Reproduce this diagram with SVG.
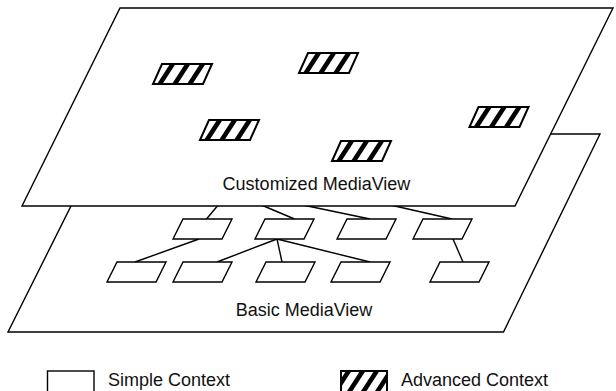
<svg xmlns="http://www.w3.org/2000/svg" width="616" height="391" viewBox="0 0 616 391">
  <style>
    .plane { fill: #fff; stroke: #000; stroke-width: 1.4; stroke-linejoin: miter; }
    .ctx { fill: #fff; stroke: #000; stroke-width: 1.4; }
    .adv { fill: none; stroke: #000; stroke-width: 2; }
    .link { stroke: #000; stroke-width: 1.4; fill: none; }
    .label { font-family: "Liberation Sans", Arial, sans-serif; font-size: 18px; fill: #111; }
  </style>
  <defs>
    <!-- simple context: plain slanted box -->
    <polygon id="ctxShape" class="ctx" points="10,0 59,0 49,20 0,20"/>
    <!-- advanced context: slanted box with diagonal stripes -->
    <clipPath id="advClip">
      <polygon points="9,0 59,0 50,20 0,20"/>
    </clipPath>
    <g id="advShape">
      <polygon points="9,0 59,0 50,20 0,20" fill="#fff"/>
      <g clip-path="url(#advClip)" fill="#000">
        <polygon points="4,20 9.5,20 22.5,0 17,0"/>
        <polygon points="19,20 24.5,20 37.5,0 32,0"/>
        <polygon points="34,20 39.5,20 52.5,0 47,0"/>
      </g>
      <polygon class="adv" points="9,0 59,0 50,20 0,20"/>
    </g>
    <clipPath id="legendClip">
      <rect x="341" y="371" width="46" height="25"/>
    </clipPath>
  </defs>

  <!-- lower layer -->
  <g id="basic-mediaview">
    <polygon class="plane" points="107,134 600,134 503.5,332 8,332"/>
    <text class="label" x="304" y="316" text-anchor="middle">Basic MediaView</text>
  </g>

  <!-- connectors between contexts -->
  <g id="connectors">
    <line class="link" x1="206.5" y1="219" x2="219" y2="204"/>
    <line class="link" x1="294.5" y1="219" x2="259" y2="204"/>
    <line class="link" x1="370" y1="219" x2="298" y2="204"/>
    <line class="link" x1="452" y1="219" x2="386" y2="204"/>
    <line class="link" x1="199" y1="239" x2="135" y2="262"/>
    <line class="link" x1="277" y1="239" x2="217" y2="262"/>
    <line class="link" x1="277" y1="239" x2="282" y2="262"/>
    <line class="link" x1="277" y1="239" x2="370" y2="262"/>
    <line class="link" x1="453" y1="239" x2="463" y2="262"/>
  </g>

  <!-- simple contexts, first row -->
  <g id="ctx-a"><use href="#ctxShape" transform="translate(173,219)"/></g>
  <g id="ctx-b"><use href="#ctxShape" transform="translate(255,219)"/></g>
  <g id="ctx-c"><use href="#ctxShape" transform="translate(337,219)"/></g>
  <g id="ctx-d"><use href="#ctxShape" transform="translate(413,219)"/></g>
  <!-- simple contexts, second row -->
  <g id="ctx-e"><use href="#ctxShape" transform="translate(107,262)"/></g>
  <g id="ctx-f"><use href="#ctxShape" transform="translate(173,262)"/></g>
  <g id="ctx-g"><use href="#ctxShape" transform="translate(256,262)"/></g>
  <g id="ctx-h"><use href="#ctxShape" transform="translate(331,262)"/></g>
  <g id="ctx-i"><use href="#ctxShape" transform="translate(430,262)"/></g>

  <!-- upper layer -->
  <g id="customized-mediaview">
    <polygon class="plane" points="120,8 613,8 515,206 22,206"/>
    <text class="label" x="316.5" y="190" text-anchor="middle">Customized MediaView</text>
  </g>

  <!-- advanced contexts -->
  <g id="adv-1"><use href="#advShape" transform="translate(153,64)"/></g>
  <g id="adv-2"><use href="#advShape" transform="translate(299,53)"/></g>
  <g id="adv-3"><use href="#advShape" transform="translate(200,120)"/></g>
  <g id="adv-4"><use href="#advShape" transform="translate(332,141)"/></g>
  <g id="adv-5"><use href="#advShape" transform="translate(469.5,107)"/></g>

  <!-- legend -->
  <g id="legend-simple">
    <rect class="ctx" x="47.5" y="371" width="46.5" height="30"/>
    <text class="label" x="108" y="386">Simple Context</text>
  </g>
  <g id="legend-advanced">
    <rect x="341" y="371" width="46" height="30" fill="#fff"/>
    <g clip-path="url(#legendClip)" fill="#000">
      <polygon points="333,391 338.5,391 351.5,371 346,371"/>
      <polygon points="347,391 352.5,391 365.5,371 360,371"/>
      <polygon points="361,391 366.5,391 379.5,371 374,371"/>
      <polygon points="375,391 380.5,391 393.5,371 388,371"/>
    </g>
    <rect class="adv" x="341" y="371" width="46" height="30"/>
    <text class="label" x="401" y="386">Advanced Context</text>
  </g>
</svg>
